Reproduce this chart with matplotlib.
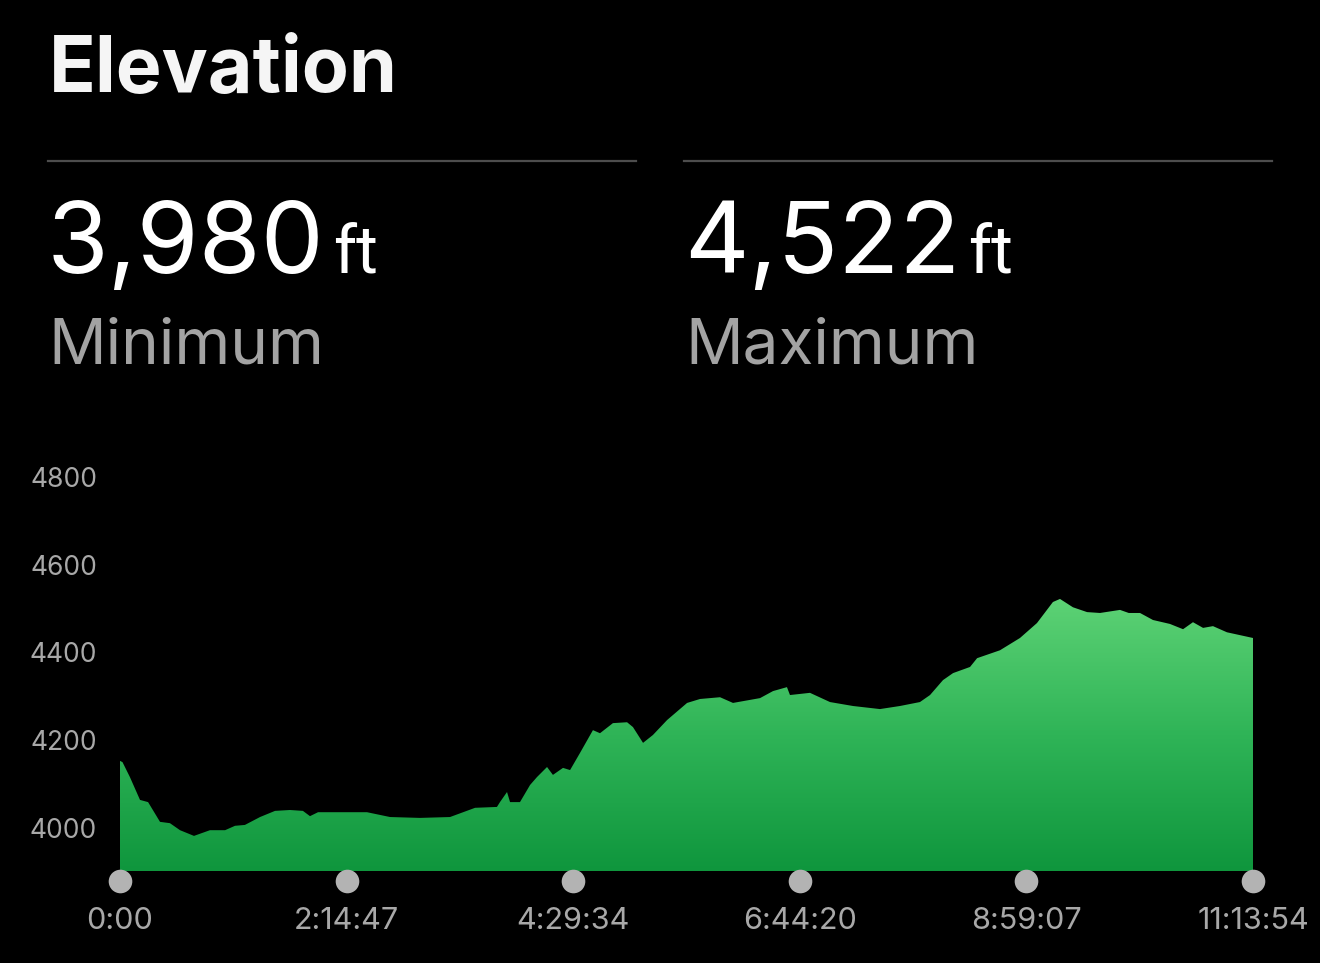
import matplotlib
matplotlib.use("Agg")
import matplotlib.pyplot as plt
import numpy as np
from matplotlib.colors import LinearSegmentedColormap
from matplotlib.transforms import offset_copy

# ---------------- data ----------------
title = "Elevation"
min_value = "3,980"
max_value = "4,522"
unit = "ft"
min_label = "Minimum"
max_label = "Maximum"

time_min = [0, 1.5, 5.9, 11.9, 16.7, 23.8, 29.7, 35.7, 44.0, 53.5, 62.5, 68.4, 74.3,
            83.3, 92.2, 101.1, 108.8, 113.0, 117.8, 130.9, 146.9, 160.6, 178.4,
            196.3, 211.2, 224.2, 226.0, 230.2, 232.0, 237.9, 243.9, 248.0, 254.0,
            257.5, 263.5, 267.7, 273.6, 281.3, 285.5, 293.2, 301.6, 305.1, 311.1,
            317.0, 325.4, 337.3, 345.0, 356.9, 364.6, 380.7, 388.4, 396.7, 398.5,
            410.4, 422.3, 436.0, 452.0, 463.9, 475.8, 481.8, 489.5, 495.5, 505.6,
            509.8, 523.4, 535.3, 545.4, 554.9, 559.1, 566.8, 575.2, 582.9, 594.8,
            600.0, 606.7, 614.4, 624.5, 632.3, 638.2, 644.2, 650.1, 658.4, 673.9]
elev_ft = [4153, 4150, 4116, 4064, 4059, 4014, 4011, 3995, 3982, 3995, 3995, 4005, 4007,
           4025, 4039, 4041, 4039, 4027, 4036, 4036, 4036, 4025, 4023,
           4025, 4046, 4048, 4059, 4082, 4059, 4059, 4098, 4116, 4139,
           4121, 4137, 4132, 4171, 4223, 4216, 4239, 4241, 4230, 4194,
           4212, 4246, 4285, 4294, 4298, 4285, 4296, 4312, 4321, 4303,
           4308, 4287, 4278, 4271, 4278, 4287, 4303, 4337, 4353, 4367,
           4387, 4405, 4433, 4467, 4515, 4522, 4503, 4492, 4490, 4497,
           4490, 4490, 4474, 4465, 4453, 4469, 4456, 4460, 4446, 4433]

y_ticks = [4000, 4200, 4400, 4600, 4800]
x_tick_min = [0, 134.78, 269.57, 404.33, 539.12, 673.9]
x_tick_labels = ["0:00", "2:14:47", "4:29:34", "6:44:20", "8:59:07", "11:13:54"]

# ---------------- figure ----------------
W, H = 1320, 963
fig = plt.figure(figsize=(W / 100, H / 100), dpi=100, facecolor="black")
FONT = ["Inter", "DejaVu Sans"]


def fx(px):
    return px / W


def fy(py):
    return 1 - py / H


# header
fig.text(fx(49), fy(92), title, color="#f5f5f5", fontsize=55.5, fontweight="bold",
         family=FONT, va="baseline", ha="left")
for x0, x1 in [(48, 636), (684, 1272)]:
    fig.add_artist(plt.Line2D([fx(x0), fx(x1)], [fy(161), fy(161)],
                              color="#4d4d4d", lw=1.6, transform=fig.transFigure))

renderer = fig.canvas.get_renderer()
for xs, val, lab in [(47, min_value, min_label), (684, max_value, max_label)]:
    t = fig.text(fx(xs), fy(273), val, color="white", fontsize=72, fontweight="normal",
                 family=FONT, va="baseline", ha="left")
    bb = t.get_window_extent(renderer)
    fig.text(fx(bb.x1 + 8), fy(273), unit, color="white", fontsize=48, fontweight="normal",
             family=["Roboto", "DejaVu Sans"], va="baseline", ha="left")
    fig.text(fx(xs + 1), fy(363), lab, color="#a3a3a3", fontsize=46, fontweight="normal",
             family=FONT, va="baseline", ha="left")

# chart axes
ax_l, ax_r, ax_t, ax_b = 120, 1253, 455, 871
ax = fig.add_axes([fx(ax_l), fy(ax_b), fx(ax_r - ax_l), (ax_b - ax_t) / H])
ax.set_facecolor("black")
ymin, ymax = 3902, 4850
ax.set_xlim(0, time_min[-1])
ax.set_ylim(ymin, ymax)

poly = ax.fill_between(time_min, elev_ft, ymin, color="none", lw=0)
cmap = LinearSegmentedColormap.from_list("g", ["#0f963d", "#2fb457", "#5dd275"])
grad = np.linspace(0, 1, 256).reshape(-1, 1)
im = ax.imshow(grad, extent=[0, time_min[-1], ymin, max(elev_ft)], origin="lower",
               aspect="auto", cmap=cmap, zorder=2)
im.set_clip_path(poly.get_paths()[0], transform=ax.transData)

for s in ax.spines.values():
    s.set_visible(False)
ax.set_yticks(y_ticks)
ax.set_yticklabels([str(v) for v in y_ticks], color="#a8a8a8", fontsize=19, family=FONT)
ax.tick_params(axis="y", length=0, pad=16.5)
ax.set_xticks([])

# x tick dots and labels
dot_tr = offset_copy(ax.transData, fig=fig, x=0, y=-(881 - ax_b), units="dots")
ax.plot(x_tick_min, [ymin] * len(x_tick_min), "o", ms=17, color="#b3b3b3", mew=0,
        clip_on=False, zorder=5, transform=dot_tr)
lab_tr = offset_copy(ax.transData, fig=fig, x=0, y=-(929 - ax_b), units="dots")
for t, lab in zip(x_tick_min, x_tick_labels):
    ax.text(t, ymin, lab, color="#a8a8a8", fontsize=22, family=FONT, ha="center",
            va="baseline", transform=lab_tr)

fig.savefig("out.png", dpi=100, facecolor="black")
